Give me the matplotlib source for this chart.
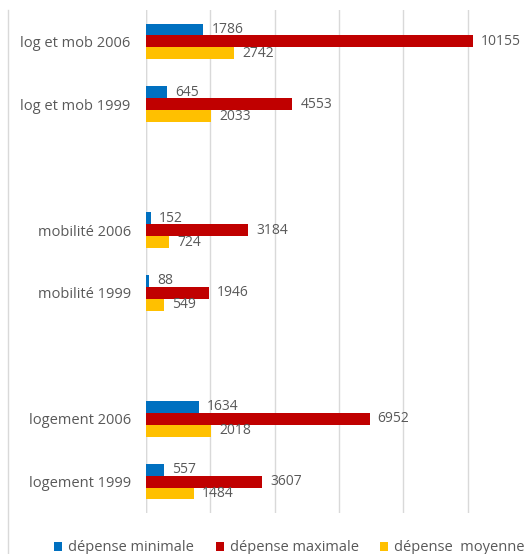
import numpy as np
import matplotlib.pyplot as plt
from matplotlib.lines import Line2D

plt.rcParams['font.family'] = ['Open Sans', 'DejaVu Sans']

# categories from bottom to top, with a blank slot between each pair
categories = ['logement 1999', 'logement 2006', '',
              'mobilité 1999', 'mobilité 2006', '',
              'log et mob 1999', 'log et mob 2006']
dep_min = [557, 1634, None, 88, 152, None, 645, 1786]
dep_max = [3607, 6952, None, 1946, 3184, None, 4553, 10155]
dep_moy = [1484, 2018, None, 549, 724, None, 2033, 2742]

series = [
    ('dépense minimale', dep_min, '#0070C0', 1),
    ('dépense maximale', dep_max, '#C00000', 0),
    ('dépense  moyenne', dep_moy, '#FFC000', -1),
]

fig = plt.figure(figsize=(5.31, 5.54), dpi=100)
ax = fig.add_axes([146 / 531, 41 / 554, 386 / 531, 503 / 554])

h = 0.19
grey = '#595959'
for name, vals, color, off in series:
    idx = [i for i, v in enumerate(vals) if v is not None]
    v = [vals[i] for i in idx]
    y = np.array(idx) + off * h
    ax.barh(y, v, height=h, color=color, label=name, zorder=3)
    for yy, vv in zip(y, v):
        ax.text(vv + 250, yy, str(vv), va='center', ha='left',
                fontsize=10, color=grey, zorder=4)

ax.set_xlim(0, 12000)
ax.set_ylim(-0.5, len(categories) - 0.5)
ax.set_xticks(np.arange(0, 12001, 2000))
ax.xaxis.grid(True, color='#D9D9D9', linewidth=1, zorder=0)
ax.tick_params(axis='x', bottom=False, labelbottom=False)

pos = [i for i, c in enumerate(categories) if c]
ax.set_yticks(pos)
ax.set_yticklabels([categories[i] for i in pos], fontsize=10.5, color=grey)
ax.tick_params(axis='y', length=0, pad=11)
for s in ax.spines.values():
    s.set_visible(False)
ax.axvline(0, color='#D9D9D9', linewidth=1, zorder=1)

# chart frame line on the left
fig.add_artist(Line2D([8 / 531, 8 / 531], [0, 1 - 10 / 554],
                      transform=fig.transFigure, color='#D9D9D9', linewidth=1))

handles, labels = ax.get_legend_handles_labels()
fig.legend(handles, labels, loc='center', bbox_to_anchor=(0.545, 0.011),
           ncol=3, frameon=False, fontsize=10.5, labelcolor=grey,
           handlelength=0.55, handleheight=0.55, handletextpad=0.4,
           columnspacing=1.5)

fig.savefig('out.png', dpi=100)
